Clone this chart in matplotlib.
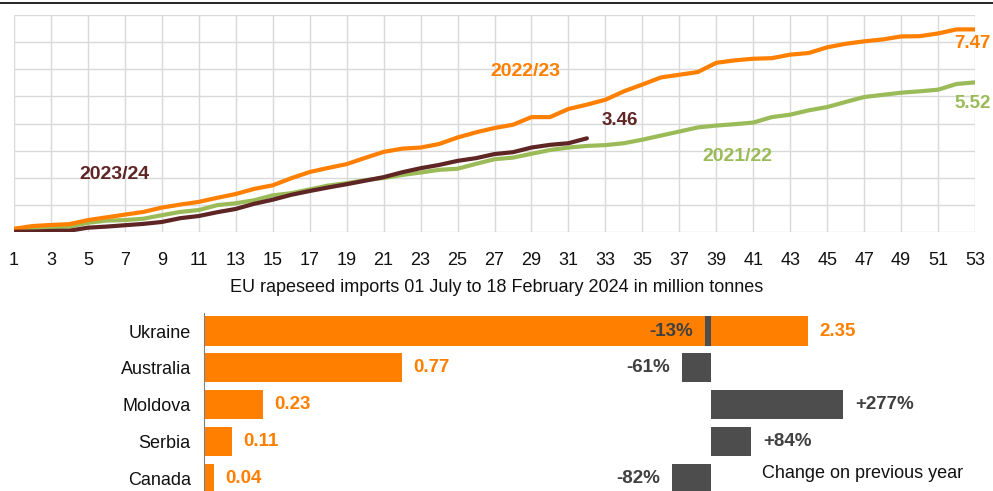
import matplotlib
matplotlib.use("Agg")
import matplotlib.pyplot as plt
from matplotlib.lines import Line2D

plt.rcParams['font.family'] = ['Liberation Sans', 'DejaVu Sans']

ORANGE = "#ff7f00"
GREEN = "#9bbb59"
BROWN = "#5f2525"
GREY_BAR = "#4d4d4d"

weeks = list(range(1, 54))

season_2122 = [0.11, 0.16, 0.18, 0.21, 0.35, 0.43, 0.45, 0.50, 0.63, 0.75,
               0.82, 1.00, 1.07, 1.18, 1.36, 1.44, 1.58, 1.72, 1.81, 1.92,
               2.00, 2.11, 2.20, 2.30, 2.34, 2.52, 2.69, 2.75, 2.89, 3.03,
               3.12, 3.18, 3.21, 3.28, 3.41, 3.56, 3.71, 3.86, 3.93, 3.98,
               4.04, 4.24, 4.33, 4.49, 4.61, 4.80, 4.98, 5.06, 5.14, 5.19,
               5.25, 5.46, 5.52]

season_2223 = [0.13, 0.23, 0.27, 0.30, 0.45, 0.55, 0.65, 0.75, 0.91, 1.02,
               1.12, 1.27, 1.41, 1.60, 1.73, 1.99, 2.22, 2.37, 2.51, 2.74,
               2.96, 3.08, 3.12, 3.25, 3.49, 3.68, 3.84, 3.96, 4.24, 4.24,
               4.54, 4.70, 4.88, 5.19, 5.44, 5.70, 5.80, 5.90, 6.24, 6.33,
               6.39, 6.41, 6.54, 6.60, 6.81, 6.94, 7.03, 7.10, 7.21, 7.22,
               7.32, 7.47, 7.47]

season_2324 = [0.02, 0.03, 0.05, 0.06, 0.17, 0.21, 0.26, 0.31, 0.38, 0.52,
               0.60, 0.74, 0.86, 1.05, 1.20, 1.38, 1.52, 1.65, 1.77, 1.90,
               2.03, 2.21, 2.36, 2.48, 2.63, 2.73, 2.88, 2.95, 3.12, 3.22,
               3.28, 3.46]

countries = ["Ukraine", "Australia", "Moldova", "Serbia", "Canada"]
imports = [2.35, 0.77, 0.23, 0.11, 0.04]
change_pct = [-13, -61, 277, 84, -82]

W, H = 993, 491
fig = plt.figure(figsize=(W / 100, H / 100), dpi=100)

# cumulative imports by week
ax = fig.add_axes([14 / W, 1 - 232.3 / H, 961 / W, 217.3 / H])
ax.plot(weeks, season_2122, color=GREEN, lw=3, solid_capstyle='round')
ax.plot(weeks, season_2223, color=ORANGE, lw=3, solid_capstyle='round')
ax.plot(weeks[:len(season_2324)], season_2324, color=BROWN, lw=3,
        solid_capstyle='round')
ax.set_xlim(1, 53)
ax.set_ylim(0, 8)
ax.set_xticks(range(1, 54, 2))
ax.set_yticks(range(0, 9))
ax.tick_params(axis='both', length=0, labelleft=False)
ax.tick_params(axis='x', labelsize=13, pad=14, labelcolor="#111111")
ax.grid(color="#d9d9d9", lw=1)
ax.set_axisbelow(True)
for s in ax.spines.values():
    s.set_visible(False)

bold = dict(fontsize=14, fontweight='bold', ha='center', va='center')
ax.text(28.65, 5.91, "2022/23", color=ORANGE, **bold)
ax.text(6.41, 2.11, "2023/24", color=BROWN, **bold)
ax.text(40.15, 2.78, "2021/22", color=GREEN, **bold)

end_kw = dict(textcoords='offset points', fontsize=13.5, fontweight='bold',
              ha='center', va='center', annotation_clip=False)
ax.annotate(f"{season_2223[-1]:.2f}", (weeks[-1], season_2223[-1]),
            xytext=(-2, -10), color=ORANGE, **end_kw)
ax.annotate(f"{season_2122[-1]:.2f}", (weeks[-1], season_2122[-1]),
            xytext=(-2, -15), color=GREEN, **end_kw)
ax.annotate(f"{season_2324[-1]:.2f}", (len(season_2324), season_2324[-1]),
            xytext=(24, 13), color=BROWN, **end_kw)

fig.text(496.5 / W, 1 - 288 / H,
         "EU rapeseed imports 01 July to 18 February 2024 in million tonnes",
         ha='center', va='center', fontsize=13, color="#111111")

# imports by origin
pos = [204 / W, 0, 786 / W, 178 / H]
y = list(range(len(countries)))
axb = fig.add_axes(pos)
axb.barh(y, imports, height=0.79, color=ORANGE)
axb.set_xlim(0, 786 / 257)
axb.set_ylim(4.35, -0.49)
axb.set_yticks(y, countries)
axb.set_xticks([])
axb.tick_params(axis='y', length=0, labelsize=13, pad=9.5, labelcolor="#111111")
for name, s in axb.spines.items():
    s.set_visible(name == 'left')
axb.spines['left'].set_color("#808080")
axb.patch.set_alpha(0)
for i, v in enumerate(imports):
    axb.annotate(f"{v:.2f}", (v, i), xytext=(8, 0), textcoords='offset points',
                 ha='left', va='center', fontsize=13.5, fontweight='bold',
                 color=ORANGE)

# change on previous year
axc = fig.add_axes(pos)
axc.barh(y, change_pct, height=0.79, color=GREY_BAR)
axc.set_xlim(-1061, 584)
axc.set_ylim(4.35, -0.49)
axc.axis('off')
for i, c in enumerate(change_pct):
    axc.annotate(f"{c:+d}%", (c, i), xytext=(8.6 if c > 0 else -8.6, 0),
                 textcoords='offset points', ha='left' if c > 0 else 'right',
                 va='center', fontsize=13.5, fontweight='bold', color="#404040")
fig.text(761.7 / W, 1 - 474 / H, "Change on previous year",
         ha='left', va='center', fontsize=13, color="#111111")

fig.add_artist(Line2D([0, 1], [1 - 2.7 / H] * 2, color='black', lw=1.2,
                      transform=fig.transFigure))

fig.savefig("out.png", dpi=100)
